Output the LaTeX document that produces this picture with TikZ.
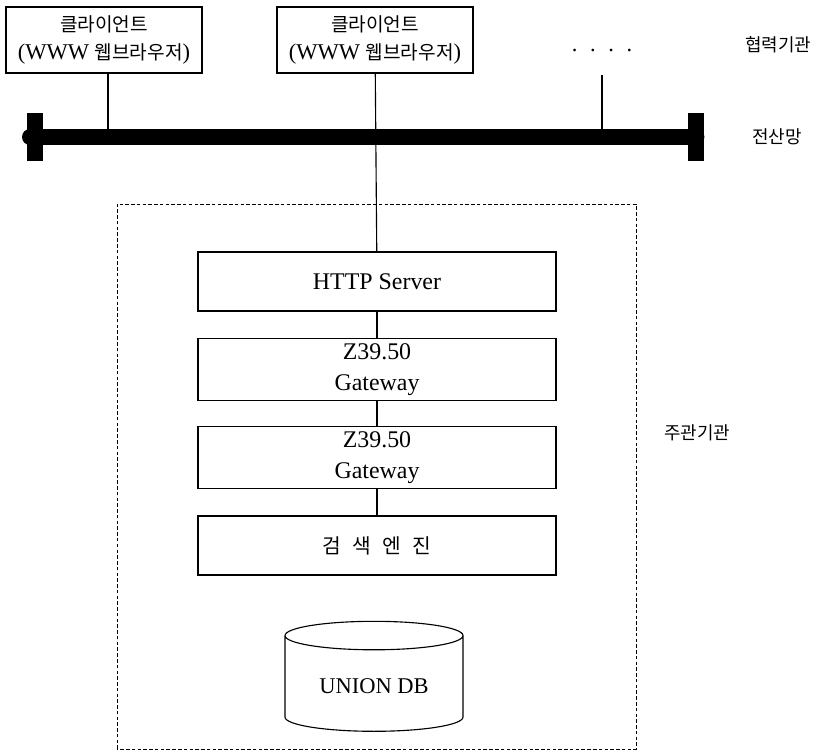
\documentclass[tikz,border=0pt]{standalone}
\usepackage{fontspec}
\setmainfont{Liberation Serif}
\newfontfamily\kr[Scale=0.85]{Noto Sans CJK KR}
\usetikzlibrary{shapes.geometric}

\begin{document}
\begin{tikzpicture}[
  every node/.style={font=\fontsize{16}{20}\selectfont},
  client/.style={draw,line width=0.8pt,minimum width=4.9cm,minimum height=1.65cm,align=center},
  layer/.style={draw,line width=0.8pt,minimum width=8.95cm,minimum height=1.475cm,align=center,
    font=\fontsize{17}{22}\selectfont},
  busend/.style={fill=black,minimum width=0.4cm,minimum height=1.2cm,inner sep=0pt},
  link/.style={line width=0.8pt},
  bus/.style={line width=0.4cm,line cap=round},
  site/.style={font=\kr\fontsize{15}{20}\selectfont}
  ]
	\useasboundingbox (0,0) rectangle (20.45,18.775);

	\node[client] (cl1) at (2.6,17.775) {{\kr 클라이언트}\\(WWW {\kr 웹브라우저})};
	\node[client] (cl2) at (9.375,17.775) {{\kr 클라이언트}\\(WWW {\kr 웹브라우저})};
	\node (more) at (15.05,17.5) {.\hspace{9pt}.\hspace{9pt}.\hspace{9pt}.};

	\coordinate (busA) at (0.75,15.35);
	\coordinate (busB) at (17.41,15.35);
	\coordinate (tap1) at (2.7,15.35);
	\coordinate (tap3) at (15.05,15.35);
	\coordinate (end3) at (15.05,16.9);

	\draw[bus] (busA) -- (busB);
	\node[busend] (busL) at (0.875,15.35) {};
	\node[busend] (busR) at (17.41,15.35) {};

	\draw[dash pattern=on 2.5pt off 1.6pt,line width=0.6pt] (2.925,0.05) rectangle (15.9,13.675);

	\node[layer] (http) at (9.425,11.7375) {HTTP Server};
	\node[layer] (gw1) at (9.425,9.5375) {Z39.50\\Gateway};
	\node[layer] (gw2) at (9.425,7.3375) {Z39.50\\Gateway};
	\node[layer] (engine) at (9.425,5.1375) {\kr 검\hspace{8pt}색\hspace{8pt}엔\hspace{8pt}진};
	\node[draw,line width=0.8pt,cylinder,shape border rotate=90,aspect=0.24,
	  minimum width=4.45cm,minimum height=2.75cm] (db) at (9.35,1.625) {UNION DB};

	\draw[link] (tap1 |- cl1.south) -- (tap1);
	\draw[link] (end3) -- (tap3);
	\draw[link] (cl2) -- (http);
	\draw[link] (http) -- (gw1);
	\draw[link] (gw1) -- (gw2);
	\draw[link] (gw2) -- (engine);

	\node[site] (coop) at (19.45,17.65) {협력기관};
	\node[site] (net) at (19.425,15.35) {전산망};
	\node[site] (host) at (17.425,7.95) {주관기관};
\end{tikzpicture}
\end{document}
